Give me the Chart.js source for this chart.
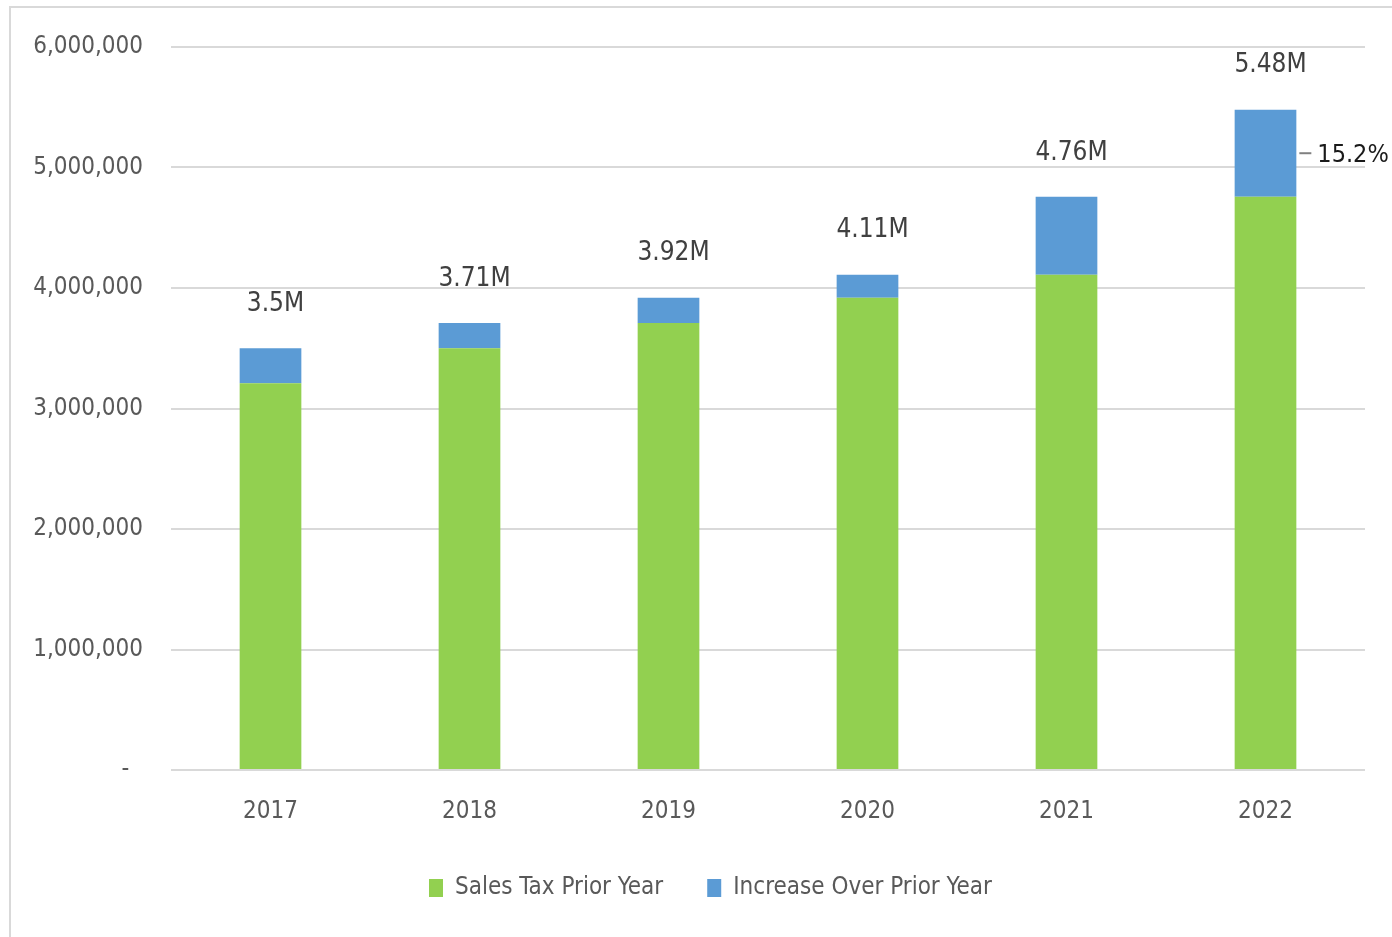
<!DOCTYPE html>
<html>
<head>
<meta charset="utf-8">
<title>Sales Tax Revenue 2017–2022</title>
<script src="https://cdn.jsdelivr.net/npm/chart.js@4/dist/chart.umd.min.js"></script>
<style>
  html, body { margin: 0; padding: 0; background: #ffffff; overflow: hidden; }
  #frame {
    position: absolute; left: 9px; top: 6px;
    width: 1400px; height: 960px;
    border: 2px solid #d9d9d9; box-sizing: border-box;
  }
  #chart { position: absolute; left: 0; top: 0; }
</style>
</head>
<body>
<div id="frame"></div>
<canvas id="chart" width="1392" height="937"></canvas>
<script>
// Fiscal years on the x axis
const years = ['2017', '2018', '2019', '2020', '2021', '2022'];
// Sales tax collected in the prior year (base of each bar)
const priorYear = [3210000, 3500000, 3710000, 3920000, 4110000, 4757000];
// Growth over the prior year (top segment of each bar)
const increase = [290000, 210000, 210000, 190000, 647000, 723000];
// Y axis tick values
const yTicks = [0, 1000000, 2000000, 3000000, 4000000, 5000000, 6000000];
// Year whose growth rate is called out beside the bar
const growthCalloutIndex = [5];

const FONT = "'DejaVu Sans Condensed', 'Liberation Sans Narrow', 'Liberation Sans', sans-serif";
const GREEN = '#92d050';
const BLUE = '#5b9bd5';

function formatMillions(v) {
  const m = Math.round(v / 10000) / 100;
  return String(m) + 'M';
}

// Totals above each bar and growth percent beside the highlighted bar
const labelPlugin = {
  id: 'totalLabels',
  afterDatasetsDraw(chart) {
    const ctx = chart.ctx;
    const topMeta = chart.getDatasetMeta(1);
    const baseMeta = chart.getDatasetMeta(0);
    ctx.save();
    ctx.font = '26px ' + FONT;
    ctx.fillStyle = '#404040';
    ctx.textAlign = 'center';
    ctx.textBaseline = 'middle';
    years.forEach((y, i) => {
      const bar = topMeta.data[i];
      const total = priorYear[i] + increase[i];
      ctx.fillText(formatMillions(total), bar.x + 5, bar.y - 44);
    });
    growthCalloutIndex.forEach(i => {
      const bar = topMeta.data[i];
      const base = baseMeta.data[i];
      const midY = (bar.y + base.y) / 2;
      const right = bar.x + bar.width / 2;
      ctx.strokeStyle = '#808080';
      ctx.lineWidth = 2;
      ctx.beginPath();
      ctx.moveTo(right + 3, midY);
      ctx.lineTo(right + 15, midY);
      ctx.stroke();
      const pct = (increase[i] / priorYear[i] * 100).toFixed(1) + '%';
      ctx.font = '25px ' + FONT;
      ctx.fillStyle = '#1a1a1a';
      ctx.textAlign = 'left';
      ctx.fillText(pct, right + 21, midY + 2);
    });
    ctx.restore();
  }
};

// Nudge the legend row so it sits centred under the plot area
const legendShift = {
  id: 'legendShift',
  afterLayout(chart) {
    if (chart.legend) {
      chart.legend.left += 28;
      chart.legend.right += 28;
    }
  }
};

new Chart(document.getElementById('chart'), {
  type: 'bar',
  data: {
    labels: years,
    datasets: [
      { label: 'Sales Tax Prior Year', data: priorYear, backgroundColor: GREEN },
      { label: 'Increase Over Prior Year', data: increase, backgroundColor: BLUE }
    ]
  },
  options: {
    responsive: false,
    animation: false,
    devicePixelRatio: 1,
    categoryPercentage: 1,
    barPercentage: 0.31,
    layout: { padding: { left: 0, right: 27, top: 47, bottom: 27 } },
    plugins: {
      legend: {
        position: 'bottom',
        labels: {
          font: { family: FONT, size: 24 },
          color: '#595959',
          boxWidth: 14,
          boxHeight: 18,
          padding: 44
        }
      },
      tooltip: { enabled: false }
    },
    scales: {
      x: {
        stacked: true,
        afterFit(scale) { scale.height = 62; },
        grid: { display: false, drawTicks: false },
        border: { display: false },
        ticks: { font: { family: FONT, size: 24 }, color: '#595959', padding: 27 }
      },
      y: {
        stacked: true,
        min: 0,
        max: 6000000,
        afterBuildTicks(scale) { scale.ticks = yTicks.map(v => ({ value: v })); },
        afterFit(scale) { scale.width = 171; },
        grid: { color: '#d9d9d9', lineWidth: 2, drawTicks: false },
        border: { display: false },
        ticks: {
          font: { family: FONT, size: 24 },
          color: '#595959',
          padding: 28,
          callback: v => v === 0 ? '-  ' : v.toLocaleString('en-US')
        }
      }
    }
  },
  plugins: [labelPlugin, legendShift]
});
</script>
</body>
</html>
